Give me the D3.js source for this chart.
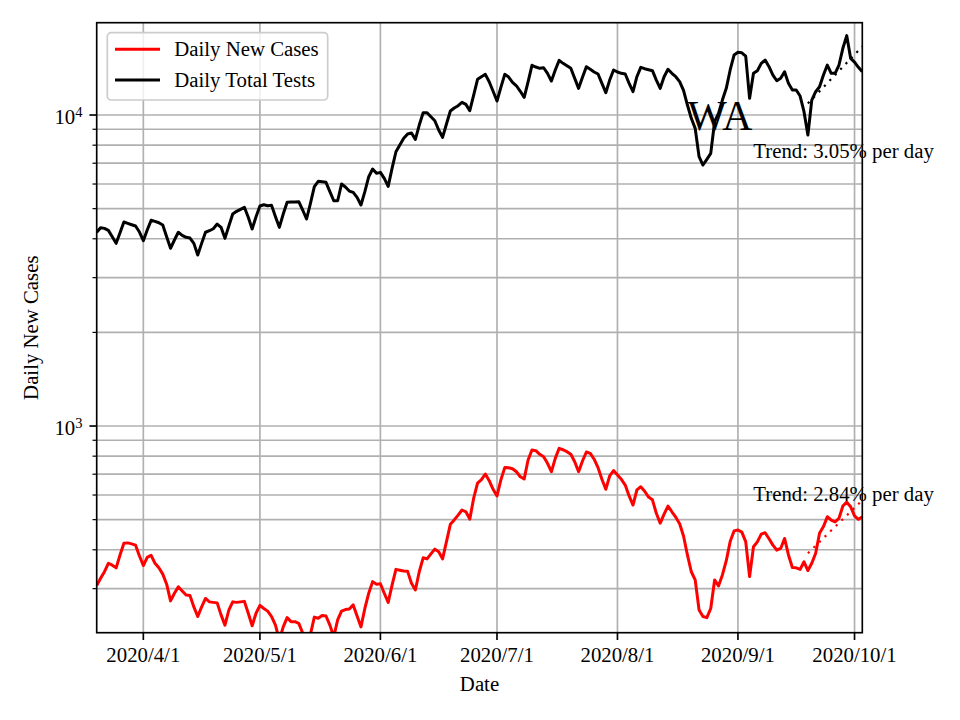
<!DOCTYPE html>
<html><head><meta charset="utf-8">
<script src="https://cdn.jsdelivr.net/npm/d3@7"></script>
<style>
body{margin:0;background:#fff}
svg{display:block}
text{font-family:"Liberation Serif","Times New Roman",Times,serif;fill:#000}
</style>
</head><body>
<svg id="chart" width="960" height="720"></svg>
<script>
// ---------------- data ----------------
const startDate = "2020-03-20";   // first day of the series (one value per day)
const dailyTests = [
4198,4342,4321,4258,4062,3867,4183,4529,4484,4439,
4396,4205,3943,4268,4586,4552,4505,4429,4062,3728,
3964,4198,4104,4044,4023,3867,3547,3867,4198,4246,
4309,4461,4354,4013,4396,4806,4902,4976,5050,4690,
4299,4710,5099,5148,5111,5123,4710,4354,4806,5240,
5252,5252,5263,4950,4631,5202,5884,6120,6100,6075,
5669,5302,5302,6000,5868,5696,5641,5437,5136,5669,
6334,6706,6493,6542,6257,5898,6739,7621,8010,8414,
8688,8752,8352,9286,10171,10171,9874,9588,8950,8479,
9356,10301,10532,10715,10985,10823,10325,11594,13023,13279,
13517,12793,11921,11092,12274,13517,13249,12738,12420,11921,
11401,12793,14448,14268,14132,14190,13617,12860,13958,14994,
14664,14406,14132,13122,12185,13220,14301,14029,13753,13546,
12643,11798,12954,13958,13753,13617,13546,12643,11885,13279,
14237,14091,13987,13885,12954,12185,13279,14029,13617,13279,
12800,12000,10769,9759,9062,7345,6906,7205,7531,9517,
10127,11172,12185,13958,15590,15905,15850,15476,11315,13617,
13885,14664,15026,14301,13446,12890,13122,13780,12643,12034,
12034,11511,10247,8625,11172,11885,12331,13446,14480,13617,
13617,14480,16388,18000,15216,14800,14237,13780
];
const dailyCases = [
307,324,340,362,357,350,385,420,421,418,
414,382,356,378,384,362,350,334,310,274,
290,304,295,286,285,262,244,262,279,272,
271,270,247,229,256,272,271,272,273,250,
228,250,265,259,254,244,229,205,226,242,
235,235,232,216,205,214,243,241,246,245,
229,210,238,254,257,258,266,245,226,259,
290,316,310,311,290,271,308,346,344,342,
341,312,297,340,377,374,388,402,394,374,
425,483,499,517,537,530,502,586,655,672,
701,667,626,596,671,735,734,729,713,687,
676,778,837,833,811,797,759,713,787,848,
839,827,811,768,713,772,825,817,782,735,
674,626,691,719,696,674,646,596,557,623,
638,617,591,579,524,487,521,553,530,509,
485,443,385,340,320,256,244,242,259,320,
306,332,369,425,460,463,456,425,328,409,
424,449,454,434,414,399,404,435,385,351,
350,346,366,343,362,390,452,475,511,498,
492,505,553,569,550,514,501,511
];
const xTickDates  = ["2020-04-01","2020-05-01","2020-06-01","2020-07-01","2020-08-01","2020-09-01","2020-10-01"];
const xTickLabels = ["2020/4/1","2020/5/1","2020/6/1","2020/7/1","2020/8/1","2020/9/1","2020/10/1"];
const yMajorTicks = [1000, 10000];
const yMajorExp   = ["3", "4"];
const yMinorTicks = [300,400,500,600,700,800,900,2000,3000,4000,5000,6000,7000,8000,9000];
const yDomain = [216.5, 19810];
const seriesNames = ["Daily New Cases", "Daily Total Tests"];
const seriesColors = ["#ff0000", "#000000"];
const trendStartIndex = 183;           // trend fitted over the last days
const trendRates = [2.84, 3.05];       // % per day : cases, tests
const trendStartValues = [390, 10900]; // trend value at start day
const stateName = "WA";
const xLabel = "Date", yLabel = "Daily New Cases";

// ---------------- layout ----------------
const L = 96.7, R = 862.3, T = 22.7, B = 632.7;
const svg = d3.select("#chart");
const parse = d3.utcParse("%Y-%m-%d");
const d0 = parse(startDate);
const dates = dailyTests.map((_, i) => d3.utcDay.offset(d0, i));

const x = d3.scaleUtc().domain([dates[0], dates[dates.length - 1]]).range([L, R]);
const y = d3.scaleLog().domain(yDomain).range([B, T]);

const gridColor = "#b0b0b0", lw = 1.67;

// grid
const grid = svg.append("g");
grid.selectAll("line.gx").data(xTickDates).join("line")
  .attr("x1", d => x(parse(d))).attr("x2", d => x(parse(d)))
  .attr("y1", T).attr("y2", B)
  .attr("stroke", gridColor).attr("stroke-width", lw);
grid.selectAll("line.gy").data(yMajorTicks.concat(yMinorTicks)).join("line")
  .attr("x1", L).attr("x2", R)
  .attr("y1", d => y(d)).attr("y2", d => y(d))
  .attr("stroke", gridColor).attr("stroke-width", lw);

// clip
svg.append("clipPath").attr("id", "clip").append("rect")
  .attr("x", L).attr("y", T).attr("width", R - L).attr("height", B - T);

const plot = svg.append("g").attr("clip-path", "url(#clip)");
const line = d3.line().x((d, i) => x(dates[i])).y(d => y(d));

[dailyCases, dailyTests].forEach((s, k) => {
  plot.append("path").datum(s)
    .attr("d", line)
    .attr("fill", "none")
    .attr("stroke", seriesColors[k])
    .attr("stroke-width", 3)
    .attr("stroke-linejoin", "round");
});

// trend lines (exponential, dotted)
const lastIndex = dates.length - 1;
trendRates.forEach((r, k) => {
  const idx = d3.range(trendStartIndex, lastIndex + 1);
  const pts = idx.map(i => [x(dates[i]), y(trendStartValues[k] * Math.pow(1 + r / 100, i - trendStartIndex))]);
  plot.append("path").attr("d", d3.line()(pts))
    .attr("fill", "none").attr("stroke", seriesColors[k])
    .attr("stroke-width", 2.2).attr("stroke-dasharray", "2.2,5.6");
});

// spines
svg.append("rect").attr("x", L).attr("y", T).attr("width", R - L).attr("height", B - T)
  .attr("fill", "none").attr("stroke", "#000").attr("stroke-width", lw);

// x ticks
const fs = 20.8;
const xt = svg.append("g");
xt.selectAll("line").data(xTickDates).join("line")
  .attr("x1", d => x(parse(d))).attr("x2", d => x(parse(d)))
  .attr("y1", B).attr("y2", B + 7.3).attr("stroke", "#000").attr("stroke-width", lw);
xt.selectAll("text").data(xTickLabels).join("text")
  .attr("x", (d, i) => x(parse(xTickDates[i])))
  .attr("y", 662.3).attr("text-anchor", "middle").attr("font-size", fs).text(d => d);

// y ticks
const yt = svg.append("g");
yt.selectAll("line.maj").data(yMajorTicks).join("line")
  .attr("x1", L - 7.3).attr("x2", L).attr("y1", d => y(d)).attr("y2", d => y(d))
  .attr("stroke", "#000").attr("stroke-width", lw);
yt.selectAll("line.min").data(yMinorTicks).join("line").attr("class", "min")
  .attr("x1", L - 4.2).attr("x2", L).attr("y1", d => y(d)).attr("y2", d => y(d))
  .attr("stroke", "#000").attr("stroke-width", 1.2);
yMajorTicks.forEach((v, i) => {
  const t = yt.append("text").attr("x", 82.5).attr("y", y(v) + 9)
    .attr("text-anchor", "end").attr("font-size", fs);
  t.append("tspan").text("10");
  t.append("tspan").attr("font-size", fs * 0.7).attr("dy", -7.5).text(yMajorExp[i]);
});

// axis labels
svg.append("text").attr("x", (L + R) / 2).attr("y", 691)
  .attr("text-anchor", "middle").attr("font-size", fs).text(xLabel);
svg.append("text").attr("transform", `translate(38,${(T + B) / 2}) rotate(-90)`)
  .attr("text-anchor", "middle").attr("font-size", fs).text(yLabel);

// annotations
svg.append("text").attr("x", 720).attr("y", 130).attr("text-anchor", "middle")
  .attr("font-size", 41.7).text(stateName);
const trendTextY = [500.7, 157.7];
trendRates.forEach((r, k) => {
  svg.append("text").attr("x", 753.3).attr("y", trendTextY[k])
    .attr("font-size", fs).text(`Trend: ${r.toFixed(2)}% per day`);
});

// legend
const lg = svg.append("g");
lg.append("rect").attr("x", 107.3).attr("y", 32.7).attr("width", 220.4).attr("height", 67.3)
  .attr("rx", 4).attr("fill", "#fff").attr("fill-opacity", 0.8)
  .attr("stroke", "#cccccc").attr("stroke-width", 1.67);
seriesNames.forEach((n, k) => {
  const ly = 49.3 + k * 30.7;
  lg.append("line").attr("x1", 115).attr("x2", 160).attr("y1", ly).attr("y2", ly)
    .attr("stroke", seriesColors[k]).attr("stroke-width", 3);
  lg.append("text").attr("x", 174.3).attr("y", ly + 7).attr("font-size", fs).text(n);
});
</script>
</body></html>
